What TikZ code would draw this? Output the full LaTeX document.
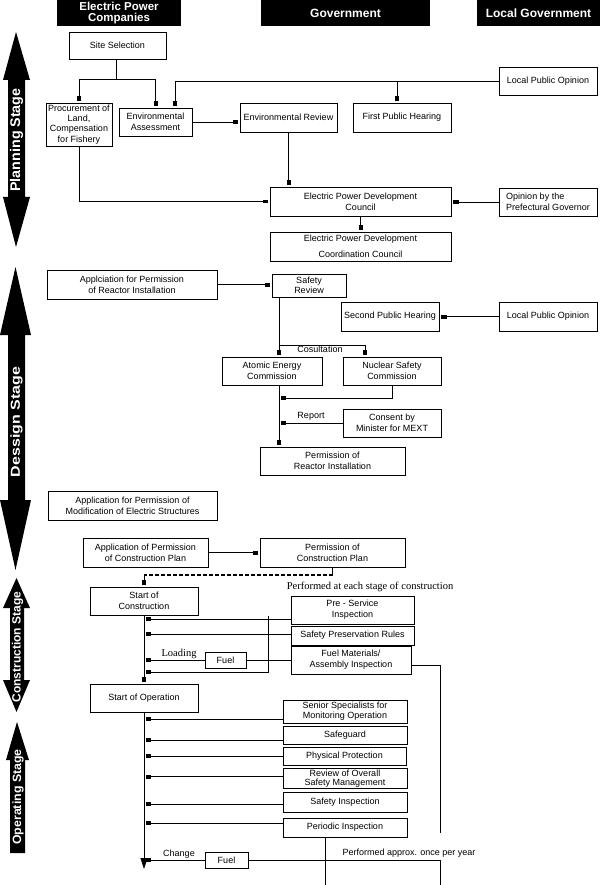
\documentclass[tikz,border=0pt]{standalone}
\usepackage{fontspec}
\setmainfont{Liberation Sans}
\newfontfamily\tmsfont{Liberation Serif}
\usetikzlibrary{arrows.meta,calc}
\begin{document}
\begin{tikzpicture}[x=1pt,y=-1pt,
  box/.style={draw, line width=0.8pt, inner sep=0pt, align=center, font=\fontsize{9}{11}\selectfont},
  wh/.style 2 args={minimum width=#1pt, minimum height=#2pt},
  hdr/.style={fill=black, text=white, inner sep=0pt, align=center, font=\fontsize{11.5}{11}\selectfont\bfseries},
  arr/.style={line width=0.8pt, -{Rectangle[length=5pt,width=3.6pt]}, shorten >=2pt},
  tri/.style={line width=0.8pt, -{Triangle[length=11pt,width=7pt]}},
  ln/.style={line width=0.8pt},
  dsh/.style={line width=1.6pt, dash pattern=on 4pt off 2pt},
  lbl/.style={inner sep=0pt, font=\fontsize{9}{11}\selectfont},
  slbl/.style={inner sep=0pt, font=\tmsfont\fontsize{10.5}{12}\selectfont},
  stgtxt/.style={text=white, rotate=90, inner sep=0pt},
]
\useasboundingbox (0,0) rectangle (607,885);

% headers
\node[hdr, wh={124}{26}] (h1) at (119,13) {Electric Power\\Companies};
\node[hdr, wh={169}{26}, font=\fontsize{12}{12}\selectfont\bfseries] (h2) at (345.5,13) {Government};
\node[hdr, wh={123}{26}, font=\fontsize{12}{12}\selectfont\bfseries] (h3) at (538.5,13) {Local Government};

% stage arrows
\fill (16,32) -- (30,80) -- (25,80) -- (25,197) -- (30,197) -- (16,247) -- (3,197) -- (8,197) -- (8,80) -- (3,80) -- cycle;
\fill (15.5,267) -- (31,335) -- (25,335) -- (25,500) -- (31,500) -- (15.5,570) -- (0,500) -- (8,500) -- (8,335) -- (0,335) -- cycle;
\fill (16.5,578) -- (30,608) -- (24,608) -- (24,680) -- (30,680) -- (16.5,712) -- (3,680) -- (10,680) -- (10,608) -- (3,608) -- cycle;
\fill (17,722) -- (29,760) -- (25,760) -- (25,853) -- (10,853) -- (10,760) -- (6,760) -- cycle;
\node[stgtxt, font=\fontsize{14}{14}\selectfont\bfseries] (s1) at (16.5,140) {\scalebox{1.02}[1]{Planning Stage}};
\node[stgtxt, font=\fontsize{13}{13}\selectfont\bfseries] (s2) at (16.5,422) {\scalebox{1.23}[1]{Dessign Stage}};
\node[stgtxt, font=\fontsize{12}{12}\selectfont\bfseries] (s3) at (17.5,647) {Construction Stage};
\node[stgtxt, font=\fontsize{12}{12}\selectfont\bfseries] (s4) at (18,797) {\scalebox{1.03}[1]{Operating Stage}};

% planning stage
\node[box, wh={97}{27}] (site) at (117.5,45.5) {Site Selection};
\node[box, wh={66}{43}, font=\fontsize{9}{10.2}\selectfont] (proc) at (79,124.5) {Procurement of\\Land,\\Compensation\\for Fishery};
\node[box, wh={73}{28}] (envA) at (155.5,122) {Environmental\\Assessment};
\node[box, wh={97}{29}] (envR) at (288.5,117.5) {Environmental Review};
\node[box, wh={98}{29}] (fph) at (402,117.5) {First Public Hearing};
\node[box, wh={98}{28}] (lpo1) at (548,81) {Local Public Opinion};
\node[box, wh={181}{29}] (epdc) at (360.5,201.5) {Electric Power Development\\Council};
\node[box, wh={98}{28}, align=left] (gov) at (548,202) {Opinion by the\\Prefectural Governor};
\node[box, wh={181}{29}, font=\fontsize{9}{15.5}\selectfont] (epdcc) at (360.5,246.5) {Electric Power Development\\Coordination Council};

\coordinate (j1) at (116,79);
\draw[ln] (j1 |- site.south) -- (j1);
\draw[arr] (j1) -| (proc.north);
\draw[arr] (j1) -| (envA.north);
\coordinate (k1) at (175,81);
\coordinate (k2) at (397,81);
\draw[arr] (lpo1.west) -| (k1 |- envA.north);
\draw[arr] (k2) -- (k2 |- fph.north);
\draw[arr] (envA.east) -- (envR.west |- envA.east);
\draw[arr] (envR.south) -- (envR.south |- epdc.north);
\draw[arr] (proc.south) |- (epdc.west);
\draw[arr] (gov.west) -- (epdc.east |- gov.west);
\draw[arr] (epdc.south) -- (epdcc.north);

% design stage
\node[box, wh={170}{29}] (appR) at (132,284.5) {Applciation for Permission\\of Reactor Installation};
\node[box, wh={74}{23}, font=\fontsize{9}{10}\selectfont] (sr) at (309,285.5) {Safety\\Review};
\node[box, wh={98}{29}] (sph) at (390,316.5) {Second Public Hearing};
\node[box, wh={98}{29}] (lpo2) at (548,316.5) {Local Public Opinion};
\node[box, wh={100}{28}] (aec) at (272,371) {Atomic Energy\\Commission};
\node[box, wh={98}{28}] (nsc) at (392,371) {Nuclear Safety\\Commission};
\node[box, wh={98}{28}] (mext) at (392,423) {Consent by\\Minister for MEXT};
\node[box, wh={145}{28}] (prI) at (332.5,461) {Permission of\\Reactor Installation};
\node[box, wh={169}{29}] (appM) at (132.5,505.5) {Application for Permission of\\Modification of Electric Structures};

\draw[arr] (appR.east) -- (sr.west |- appR.east);
\draw[arr] (lpo2.west) -- (sph.east);
\coordinate (c1) at (279,345);
\coordinate (c2) at (279,398);
\coordinate (c3) at (365,345);
\draw[arr] (c1 |- sr.south) -- (c1 |- aec.north);
\draw[arr] (c1) -- (c3) -- (c3 |- nsc.north);
\node[lbl] (cons) at (320,349) {Cosultation};
\draw[arr] (nsc.south) |- (c2);
\draw[arr] (mext.west) -- (mext.west -| c1);
\node[lbl] (rep) at (311,416) {Report};
\draw[arr] (c1 |- aec.south) -- (c1 |- prI.north);

% construction stage
\node[box, wh={125}{29}] (appC) at (145.5,552.5) {Application of Permission\\of Construction Plan};
\node[box, wh={145}{29}] (pcp) at (332.5,552.5) {Permission of\\Construction Plan};
\node[box, wh={108}{28}] (soc) at (144,601) {Start of\\Construction};
\node[slbl] (perf1) at (370,587) {Performed at each stage of construction};
\node[box, wh={123}{28}] (psi) at (352.5,610) {Pre - Service\\Inspection};
\node[box, wh={123}{19}] (spr) at (352.5,635.5) {Safety Preservation Rules};
\node[box, wh={120}{28}] (fmai) at (351,660) {Fuel Materials/\\Assembly Inspection};
\node[box, wh={41}{16}] (fuel1) at (225.5,660) {Fuel};
\node[slbl] (load) at (179,654) {Loading};
\node[box, wh={108}{28}] (soo) at (144,698) {Start of Operation};

\draw[arr] (appC.east) -- (pcp.west);
\coordinate (d1) at (332.5,575);
\draw[ln] (pcp.south) -- (d1);
\draw[dsh] (d1) -- (d1 -| soc.north);
\draw[arr] (d1 -| soc.north) -- (soc.north);
\draw[arr] (soc.south) -- (soo.north);
\draw[arr] ([yshift=-9pt]psi.west) -- ([yshift=-9pt]psi.west -| soc.south);
\coordinate (v1) at (268,616);
\coordinate (v2) at (268,672);
\draw[arr] (v1) -- (v2) -- (v2 -| soc.south);
\draw[arr] ([yshift=1.5pt]spr.west) -- ([yshift=1.5pt]spr.west -| soc.south);
\draw[ln] (fmai.west) -- (fuel1.east);
\draw[arr] (fuel1.west) -- (fuel1.west -| soc.south);
\coordinate (w1) at (440,833);
\draw[ln] ([yshift=-5pt]fmai.east) -| (w1);

% operating stage
\node[box, wh={124}{23}, font=\fontsize{9}{10}\selectfont] (ssmo) at (345,711.5) {Senior Specialists for\\Monitoring Operation};
\node[box, wh={124}{18}] (sg) at (345,735) {Safeguard};
\node[box, wh={123}{18}] (pp) at (344.5,756) {Physical Protection};
\node[box, wh={124}{20}, font=\fontsize{9}{9.5}\selectfont] (rosm) at (345,778.5) {Review of Overall\\Safety Management};
\node[box, wh={124}{20}] (si) at (345,802) {Safety Inspection};
\node[box, wh={124}{19}] (pi) at (345,827.5) {Periodic Inspection};
\node[box, wh={43}{16}] (fuel2) at (226.5,860) {Fuel};
\node[lbl] (chg) at (179,854) {Change};
\node[lbl] (perf2) at (409,853) {Performed approx. once per year};

\draw[tri] (soo.south) -- (144,869);
\draw[arr] ([yshift=-7.5pt]ssmo.west) -- ([yshift=-7.5pt]ssmo.west -| soo.south);
\draw[arr] ([yshift=-5pt]sg.west) -- ([yshift=-5pt]sg.west -| soo.south);
\draw[arr] (pp.west) -- (pp.west -| soo.south);
\draw[arr] ([yshift=2pt]rosm.west) -- ([yshift=2pt]rosm.west -| soo.south);
\draw[arr] ([yshift=-2pt]si.west) -- ([yshift=-2pt]si.west -| soo.south);
\draw[arr] ([yshift=4.5pt]pi.west) -- ([yshift=4.5pt]pi.west -| soo.south);
\draw[arr] (fuel2.west) -- (fuel2.west -| soo.south);
\coordinate (w2) at (440,860);
\coordinate (w4) at (440,885);
\draw[ln] (fuel2.east) -- (w2) -- (w4);
\coordinate (w3) at (325,837);
\coordinate (w5) at (325,885);
\draw[ln] (w3) -- (w5);
\end{tikzpicture}
\end{document}
